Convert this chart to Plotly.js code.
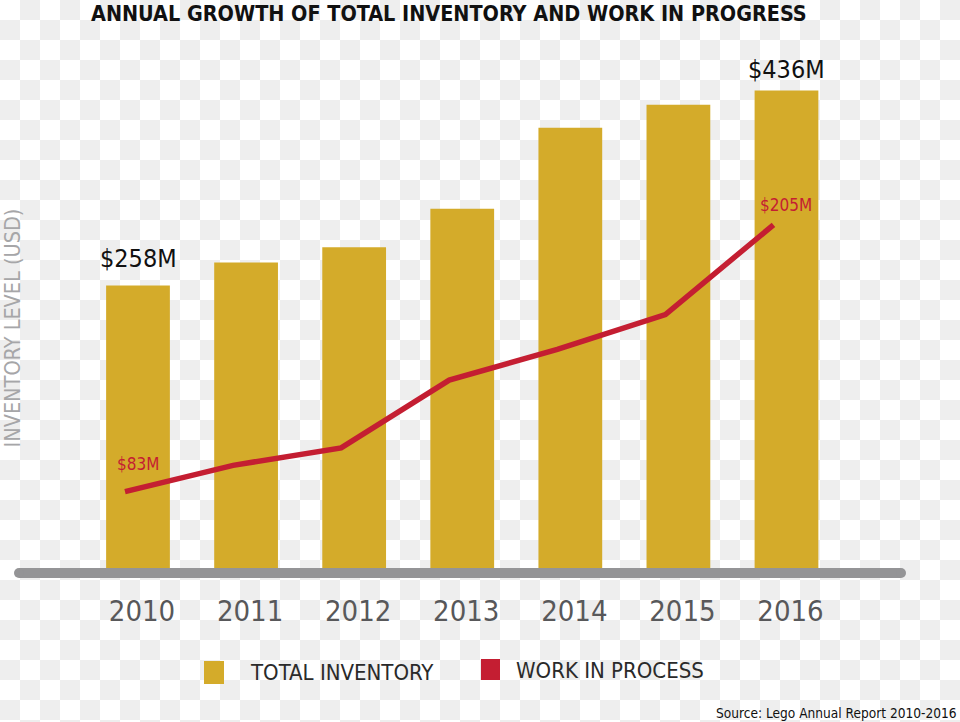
<!DOCTYPE html>
<html>
<head>
<meta charset="utf-8">
<script src="https://cdn.plot.ly/plotly-3.0.1.min.js"></script>
<style>
  html, body { margin: 0; padding: 0; }
  body {
    width: 960px; height: 722px; overflow: hidden;
    background: repeating-conic-gradient(#eeeeee 0 25%, #ffffff 0 50%) 0 0 / 40px 40px;
  }
  #chart { width: 960px; height: 722px; }
</style>
</head>
<body>
<div id="chart"></div>
<script>
// ---- data ----
const years = [2010, 2011, 2012, 2013, 2014, 2015, 2016];
const yearLabels = ['2010', '2011', '2012', '2013', '2014', '2015', '2016'];
const totalInventory = [258, 279, 293, 328, 402, 423, 436];   // $M
const workInProcess = [83, 95, 103, 134, 148, 164, 205];      // $M
const seriesNames = ['TOTAL INVENTORY', 'WORK IN PROCESS'];
const titleText = 'ANNUAL GROWTH OF TOTAL INVENTORY AND WORK IN PROGRESS';
const yTitleText = 'INVENTORY LEVEL (USD)';
const sourceText = 'Source: Lego Annual Report 2010-2016';

// ---- styling / geometry ----
const W = 960, H = 722;
const GOLD = '#D4AB2A', RED = '#C41E32', GREY_LINE = '#949496';
const FONT = 'DejaVu Sans Condensed, Liberation Sans Narrow, sans-serif';
const px = x => x / W;            // pixel -> paper x
const py = y => 1 - y / H;        // pixel -> paper y

// x axis: 2010 bar center at px 138, 108.08 px per year
const pxPerYear = 108.08;
const x0 = years[0] - 138 / pxPerYear;
const xRange = [x0, x0 + W / pxPerYear];
// line axis shifted slightly left (line points sit left of bar centers)
const x0b = years[0] - 125 / pxPerYear;
const xRange2 = [x0b, x0b + W / pxPerYear];
// y axis for bars: zero at px 568, 1.095 px per $M
const yPer = 1.095, yZero = 568;
const yRange = [-(H - yZero) / yPer, yZero / yPer];
// y2 for line: zero at px 673, 2.186 px per $M
const y2Per = 2.186, y2Zero = 673;
const y2Range = [-(H - y2Zero) / y2Per, y2Zero / y2Per];

const fmt = v => '$' + v + 'M';
const last = years.length - 1;

const traces = [
  {
    type: 'bar', x: years, y: totalInventory, name: seriesNames[0],
    width: 0.59, marker: { color: GOLD, line: { width: 0 } },
    xaxis: 'x', yaxis: 'y', hoverinfo: 'skip'
  },
  {
    type: 'scatter', mode: 'lines', x: years, y: workInProcess, name: seriesNames[1],
    line: { color: RED, width: 5.5 },
    xaxis: 'x2', yaxis: 'y2', hoverinfo: 'skip'
  }
];

const annotations = [
  { xref: 'paper', yref: 'paper', x: px(449), y: 1, text: titleText, showarrow: false,
    xanchor: 'center', yanchor: 'top', borderpad: 0,
    font: { family: FONT, size: 21.4, color: '#111', weight: 'bold' } },
  { xref: 'paper', yref: 'paper', x: px(11.5), y: py(328), text: yTitleText, showarrow: false,
    textangle: -90, xanchor: 'center', yanchor: 'middle', font: { family: FONT, size: 21.5, color: '#A6A6A8' } },
  // bar value labels (first and last)
  { xref: 'x', yref: 'y', x: years[0], y: totalInventory[0], text: fmt(totalInventory[0]), showarrow: false,
    yanchor: 'middle', yshift: 27, font: { family: FONT, size: 25, color: '#111' } },
  { xref: 'x', yref: 'y', x: years[last], y: totalInventory[last], text: fmt(totalInventory[last]), showarrow: false,
    yanchor: 'middle', yshift: 21, font: { family: FONT, size: 25, color: '#111' } },
  // line value labels (first and last), on bar centers
  { xref: 'x', yref: 'y2', x: years[0], y: workInProcess[0], text: fmt(workInProcess[0]), showarrow: false,
    yanchor: 'middle', yshift: 28, font: { family: FONT, size: 17, color: RED } },
  { xref: 'x', yref: 'y2', x: years[last], y: workInProcess[last], text: fmt(workInProcess[last]), showarrow: false,
    yanchor: 'middle', yshift: 20, font: { family: FONT, size: 17, color: RED } },
  // legend texts
  { xref: 'paper', yref: 'paper', x: px(248), y: py(672), text: seriesNames[0], showarrow: false,
    xanchor: 'left', yanchor: 'middle', font: { family: FONT, size: 22, color: '#2a2a2a' } },
  { xref: 'paper', yref: 'paper', x: px(514), y: py(670), text: seriesNames[1], showarrow: false,
    xanchor: 'left', yanchor: 'middle', font: { family: FONT, size: 22, color: '#2a2a2a' } },
  // source
  { xref: 'paper', yref: 'paper', x: px(959), y: py(713), text: sourceText, showarrow: false,
    xanchor: 'right', yanchor: 'middle', font: { family: FONT, size: 13.6, color: '#111' } }
];

const shapes = [
  // baseline
  { type: 'line', xref: 'paper', yref: 'paper', x0: px(19), x1: px(901), y0: py(573), y1: py(573),
    line: { color: GREY_LINE, width: 10 }, layer: 'above' },
  { type: 'circle', xref: 'paper', yref: 'paper', x0: px(14), x1: px(24), y0: py(568), y1: py(578),
    fillcolor: GREY_LINE, line: { width: 0 }, layer: 'above' },
  { type: 'circle', xref: 'paper', yref: 'paper', x0: px(896), x1: px(906), y0: py(568), y1: py(578),
    fillcolor: GREY_LINE, line: { width: 0 }, layer: 'above' },
  // legend swatches
  { type: 'rect', xref: 'paper', yref: 'paper', x0: px(204), x1: px(224), y0: py(661), y1: py(684),
    fillcolor: GOLD, line: { width: 0 } },
  { type: 'rect', xref: 'paper', yref: 'paper', x0: px(481), x1: px(500), y0: py(659), y1: py(680),
    fillcolor: RED, line: { width: 0 } }
];

const layout = {
  width: W, height: H,
  margin: { l: 0, r: 0, t: 0, b: 0, pad: 0 },
  paper_bgcolor: 'rgba(0,0,0,0)', plot_bgcolor: 'rgba(0,0,0,0)',
  showlegend: false,
  xaxis: {
    range: xRange, domain: [0, 1], anchor: 'free', position: py(591),
    tickmode: 'array', tickvals: years, ticktext: yearLabels,
    showgrid: false, zeroline: false, showline: false, ticks: '',
    ticklabelshift: 4,
    tickfont: { family: FONT, size: 29, color: '#58585A' }, fixedrange: true
  },
  xaxis2: {
    range: xRange2, overlaying: 'x', visible: false, fixedrange: true
  },
  yaxis: { range: yRange, domain: [0, 1], visible: false, fixedrange: true },
  yaxis2: { range: y2Range, overlaying: 'y', visible: false, fixedrange: true },
  annotations: annotations,
  shapes: shapes
};

Plotly.newPlot('chart', traces, layout, { displayModeBar: false, staticPlot: true });
</script>
</body>
</html>
